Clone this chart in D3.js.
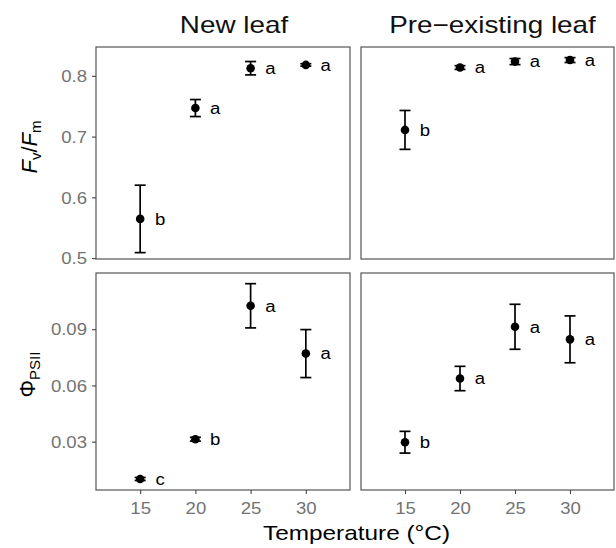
<!DOCTYPE html>
<html>
<head>
<meta charset="utf-8">
<script src="https://cdn.jsdelivr.net/npm/d3@7"></script>
<style>
  body { margin: 0; background: #fff; }
  svg { font-family: "Liberation Sans", Arial, sans-serif; }
</style>
</head>
<body>
<div id="chart"></div>
<script>
// temperatures and facet labels
const temps = [15, 20, 25, 30];
const leafTypes = ["New leaf", "Pre\u2212existing leaf"];

// Fv/Fm, mean and error
const fvfmNewMean = [0.5645, 0.747, 0.8126, 0.818];
const fvfmNewErr = [0.0555, 0.014, 0.011, 0.002];
const fvfmNewLetters = ["b", "a", "a", "a"];
const fvfmPreMean = [0.711, 0.8137, 0.8235, 0.826];
const fvfmPreErr = [0.032, 0.003, 0.005, 0.004];
const fvfmPreLetters = ["b", "a", "a", "a"];

// PhiPSII, mean and error
const phiNewMean = [0.0101, 0.0313, 0.1025, 0.0770];
const phiNewErr = [0.0008, 0.0010, 0.0118, 0.0128];
const phiNewLetters = ["c", "b", "a", "a"];
const phiPreMean = [0.0297, 0.0637, 0.0913, 0.0846];
const phiPreErr = [0.0058, 0.0065, 0.0120, 0.0125];
const phiPreLetters = ["b", "a", "a", "a"];

const xTicks = [15, 20, 25, 30];
const fvfmTicks = [0.5, 0.6, 0.7, 0.8];
const phiTicks = [0.03, 0.06, 0.09];

const width = 616, height = 548;
const sx = 1.16; // text looks horizontally stretched in the reference

const cols = [[96, 350], [361, 614]];
const rows = [[47, 259], [273, 490]];

const svg = d3.select("#chart").append("svg")
    .attr("width", width)
    .attr("height", height);

const xs = cols.map(c => d3.scaleLinear().domain([11, 34]).range(c));
const yTop = d3.scaleLinear().domain([0.4985, 0.8475]).range([rows[0][1], rows[0][0]]);
const yBot = d3.scaleLinear().domain([0.0042, 0.120]).range([rows[1][1], rows[1][0]]);

const panels = [
    { r: 0, c: 0, y: yTop, mean: fvfmNewMean, err: fvfmNewErr, lab: fvfmNewLetters },
    { r: 0, c: 1, y: yTop, mean: fvfmPreMean, err: fvfmPreErr, lab: fvfmPreLetters },
    { r: 1, c: 0, y: yBot, mean: phiNewMean, err: phiNewErr, lab: phiNewLetters },
    { r: 1, c: 1, y: yBot, mean: phiPreMean, err: phiPreErr, lab: phiPreLetters }
];

function stretchText(sel, x, y) {
    return sel.attr("transform", `translate(${x},${y}) scale(${sx},1)`);
}

panels.forEach(p => {
    const x = xs[p.c], y = p.y;
    const g = svg.append("g");
    const data = temps.map((t, i) => ({ t, m: p.mean[i], e: p.err[i], l: p.lab[i] }));

    // error bars
    const eb = g.selectAll(".eb").data(data).join("g").attr("class", "eb")
        .attr("stroke", "#000").attr("stroke-width", 1.7);
    eb.append("line")
        .attr("x1", d => x(d.t)).attr("x2", d => x(d.t))
        .attr("y1", d => y(d.m - d.e)).attr("y2", d => y(d.m + d.e));
    eb.append("line")
        .attr("x1", d => x(d.t) - 5.5).attr("x2", d => x(d.t) + 5.5)
        .attr("y1", d => y(d.m - d.e)).attr("y2", d => y(d.m - d.e));
    eb.append("line")
        .attr("x1", d => x(d.t) - 5.5).attr("x2", d => x(d.t) + 5.5)
        .attr("y1", d => y(d.m + d.e)).attr("y2", d => y(d.m + d.e));

    g.selectAll("circle").data(data).join("circle")
        .attr("cx", d => x(d.t)).attr("cy", d => y(d.m))
        .attr("r", 4.3).attr("fill", "#000");

    g.selectAll(".lab").data(data).join("text").attr("class", "lab")
        .each(function (d) {
            stretchText(d3.select(this), x(d.t + 1.8), y(d.m));
        })
        .attr("text-anchor", "middle")
        .attr("dy", "0.36em")
        .attr("font-size", 16)
        .attr("fill", "#000")
        .text(d => d.l);

    // panel border
    svg.append("rect")
        .attr("x", cols[p.c][0]).attr("y", rows[p.r][0])
        .attr("width", cols[p.c][1] - cols[p.c][0])
        .attr("height", rows[p.r][1] - rows[p.r][0])
        .attr("fill", "none").attr("stroke", "#555").attr("stroke-width", 1.2);
});

// y axes on left column
[[yTop, fvfmTicks, ".1f"], [yBot, phiTicks, ".2f"]].forEach(([y, ticks, fmt]) => {
    const ax = svg.append("g")
        .attr("transform", `translate(${cols[0][0]},0)`)
        .call(d3.axisLeft(y).tickValues(ticks).tickFormat(d3.format(fmt))
            .tickSize(4).tickPadding(5).tickSizeOuter(0));
    ax.select(".domain").remove();
    ax.selectAll(".tick line").attr("stroke", "#444").attr("stroke-width", 1.1);
    ax.selectAll(".tick text")
        .attr("font-size", 16).attr("fill", "#737373")
        .attr("x", null).attr("dy", "0.36em")
        .attr("transform", `translate(-9,0) scale(${sx},1)`);
});

// x axes on bottom row
xs.forEach(x => {
    const ax = svg.append("g")
        .attr("transform", `translate(0,${rows[1][1]})`)
        .call(d3.axisBottom(x).tickValues(xTicks).tickSize(4).tickPadding(3).tickSizeOuter(0));
    ax.select(".domain").remove();
    ax.selectAll(".tick line").attr("stroke", "#444").attr("stroke-width", 1.1);
    ax.selectAll(".tick text")
        .attr("font-size", 16).attr("fill", "#737373")
        .attr("y", null).attr("dy", null)
        .attr("transform", `translate(0,24) scale(${sx},1)`);
});

// strip titles
leafTypes.forEach((name, i) => {
    stretchText(svg.append("text"), (cols[i][0] + cols[i][1]) / 2 + [11, 5][i], 33)
        .attr("text-anchor", "middle")
        .attr("font-size", 24)
        .attr("fill", "#111")
        .text(name);
});

// x axis title
stretchText(svg.append("text"), 356.5, 540)
    .attr("text-anchor", "middle")
    .attr("font-size", 21)
    .attr("fill", "#000")
    .text("Temperature (\u00B0C)");

// y axis titles
const t1 = svg.append("text")
    .attr("transform", `translate(37,${(rows[0][0] + rows[0][1]) / 2 - 6}) rotate(-90)`)
    .attr("text-anchor", "middle")
    .attr("font-size", 22)
    .attr("fill", "#000");
t1.append("tspan").attr("font-style", "italic").text("F");
t1.append("tspan").attr("font-size", 15).attr("dy", 4).text("v");
t1.append("tspan").attr("dy", -4).text("/");
t1.append("tspan").attr("font-style", "italic").text("F");
t1.append("tspan").attr("font-size", 15).attr("dy", 4).text("m");

const t2 = svg.append("text")
    .attr("transform", `translate(35,${(rows[1][0] + rows[1][1]) / 2 - 7}) rotate(-90)`)
    .attr("text-anchor", "middle")
    .attr("font-size", 22)
    .attr("fill", "#000");
t2.append("tspan").text("\u03A6");
t2.append("tspan").attr("font-size", 15).attr("dy", 5).text("PSII");
</script>
</body>
</html>
